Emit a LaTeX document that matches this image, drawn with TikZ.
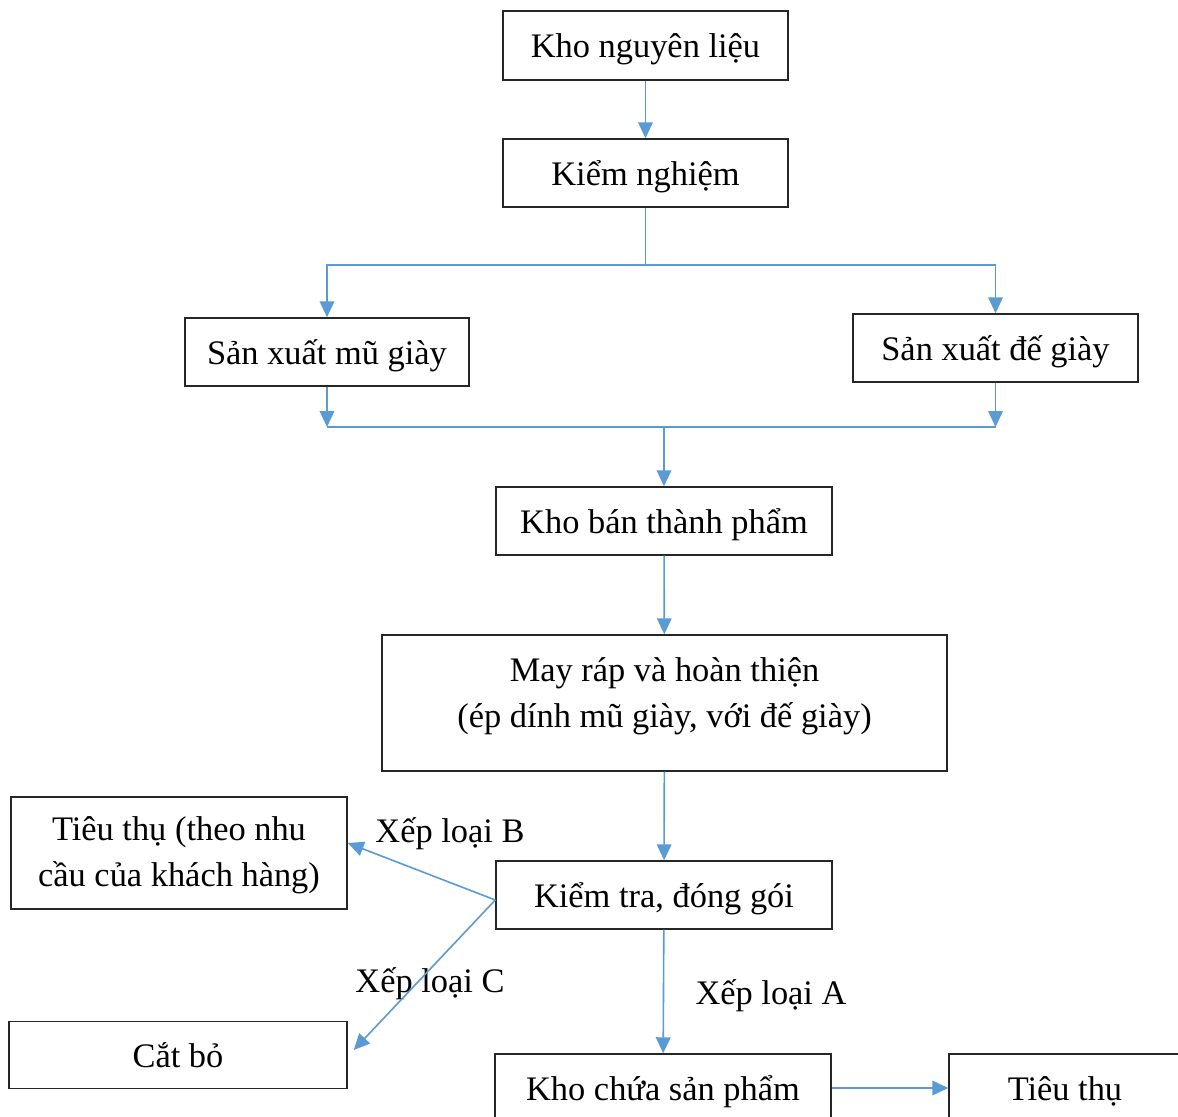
\documentclass[tikz,border=0pt]{standalone}
\usepackage{fontspec}
\setmainfont{Liberation Serif}
\usetikzlibrary{arrows.meta,calc}
\definecolor{conn}{HTML}{5B9BD5}
\newcommand{\twolines}[4]{\raisebox{0pt}[#3][#4]{\begin{tabular}[b]{@{}c@{}}#1\\#2\end{tabular}}}
\begin{document}
\begin{tikzpicture}[x=0.75pt,y=-0.75pt,
  txt/.style={font=\fontsize{25.8}{34.5}\selectfont,inner sep=0pt,text height=20pt,text depth=2pt},
  box/.style 2 args={draw=black!85,line width=1.1pt,minimum width=#1*0.75pt,minimum height=#2*0.75pt,txt},
  mbox/.style 2 args={box={#1}{#2},text height=,text depth=},
  lbl/.style={txt},
  ln/.style={draw=conn,line width=1.2pt},
  arr/.style={ln,-{Triangle[length=12pt,width=11pt]}}]
\useasboundingbox (0,0) rectangle (1178,1117);
\fill[white] (0,0) rectangle (1178,1117);
% boxes
\node[box={285}{69}] (knl) at (645.5,45.5) {Kho nguyên liệu};
\node[box={285}{68}] (kn) at (645.5,173) {Kiểm nghiệm};
\node[box={284}{68}] (mu) at (327,352) {Sản xuất mũ giày};
\node[box={285}{68}] (de) at (995.5,348) {Sản xuất đế giày};
\node[box={336}{68}] (kb) at (664,521) {Kho bán thành phẩm};
\node[mbox={565}{136}] (mr) at (664.5,703) {\twolines{May ráp và hoàn thiện}{(ép dính mũ giày, với đế giày)}{36pt}{0pt}};
\node[mbox={336}{112}] (tt) at (179,853) {\twolines{Tiêu thụ (theo nhu}{cầu của khách hàng)}{50pt}{0pt}};
\node[box={336}{68}] (kt) at (664,895) {Kiểm tra, đóng gói};
\node[box={338}{67}] (cb) at (178,1055) {Cắt bỏ};
\node[box={336}{68}] (kc) at (663,1088) {Kho chứa sản phẩm};
\node[box={232}{68}] (ttb) at (1065,1088) {Tiêu thụ};
% labels
\node[lbl] (lb) at (450,830) {Xếp loại B};
\node[lbl] (lc) at (430,980) {Xếp loại C};
\node[lbl] (la) at (771,992) {Xếp loại A};
% connectors
\coordinate (split) at (645.5,265);
\coordinate (merge) at (664,427);
\draw[arr] (knl) -- (kn);
\draw[ln] (kn.south) -- (split);
\draw[arr] (split) -| (mu.north);
\draw[arr] (split) -| (de.north);
\draw[arr] (mu.south) -- (mu.south |- merge);
\draw[arr] (de.south) -- (de.south |- merge);
\draw[ln] (mu.south |- merge) -- (de.south |- merge);
\draw[arr] (merge) -- (kb.north);
\draw[arr] (kb) -- (mr);
\draw[arr] (mr) -- (kt);
\coordinate (ktw) at ($(kt.west)+(0,5)$);
\draw[arr] (ktw) -- ($(tt.east)+(0,-10)$);
\draw[arr] (ktw) -- ($(cb.east)+(6,-5)$);
\draw[arr] (kt) -- (kc);
\draw[arr] (kc) -- (ttb);
\end{tikzpicture}
\end{document}
